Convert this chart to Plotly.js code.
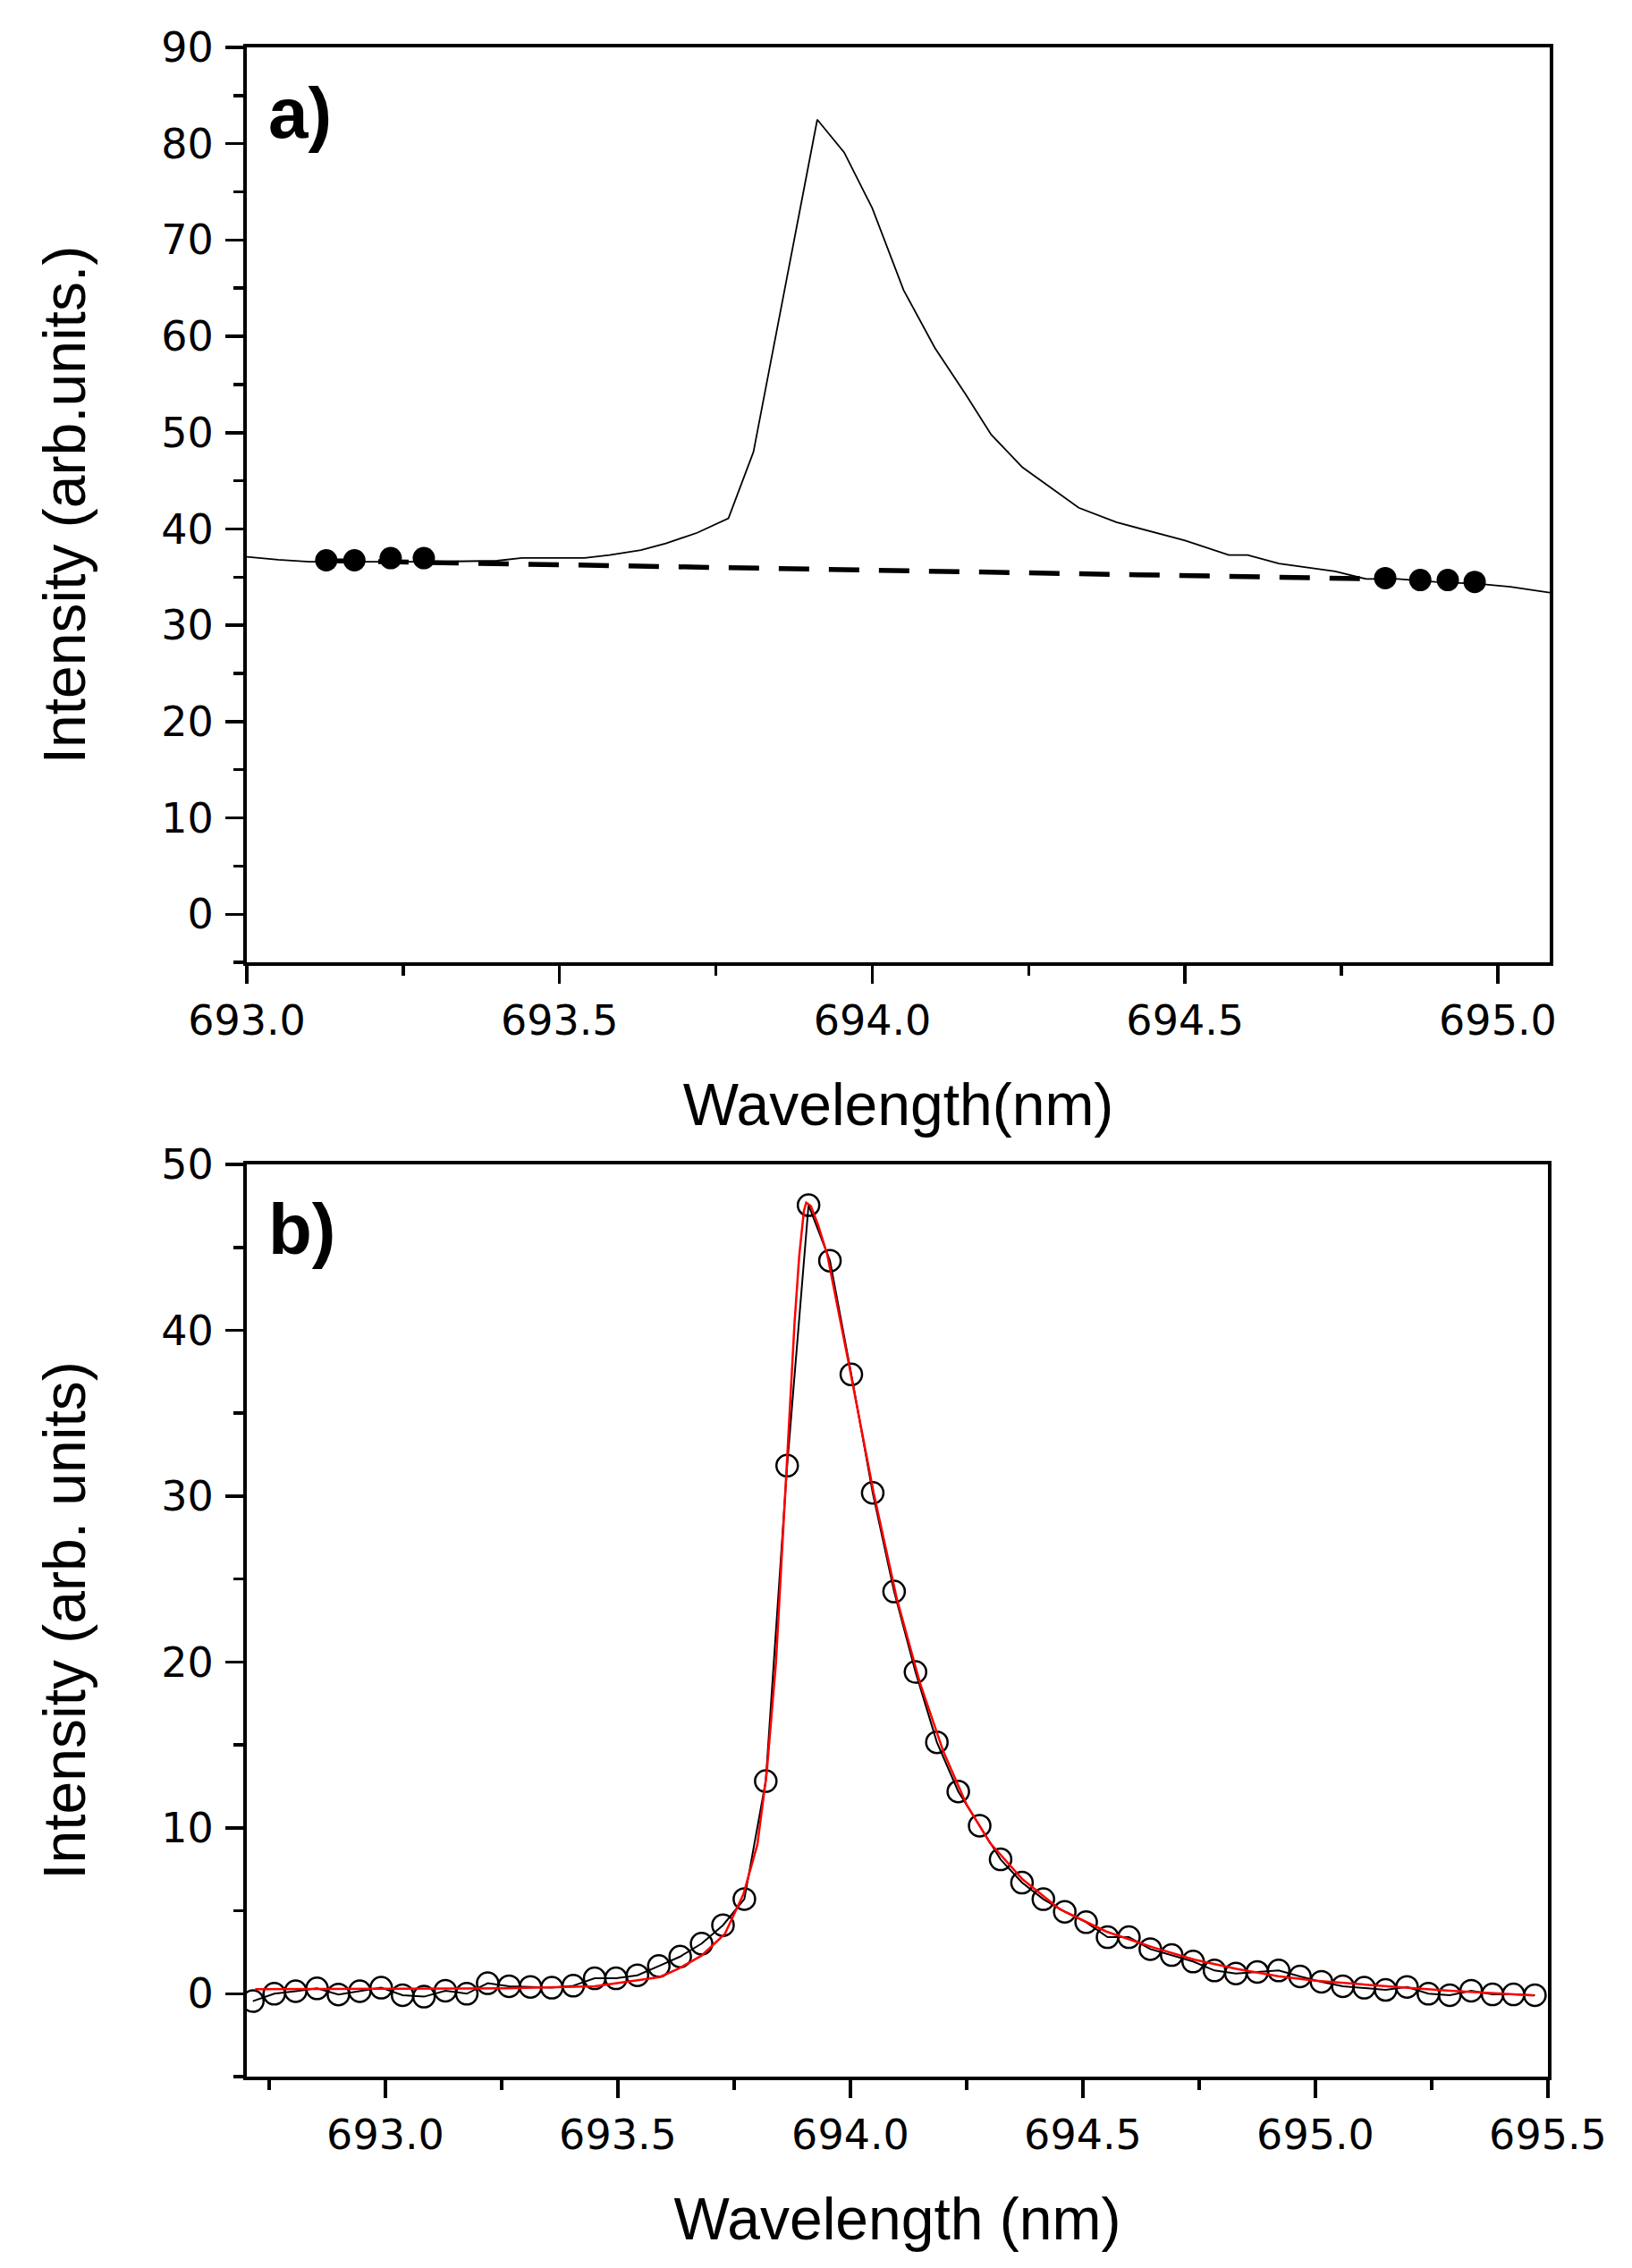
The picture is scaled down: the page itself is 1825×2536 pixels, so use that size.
<!DOCTYPE html>
<html>
<head>
<meta charset="utf-8">
<script src="https://cdn.plot.ly/plotly-3.0.1.min.js"></script>
<style>html,body{margin:0;padding:0;background:#fff;}#chart{width:1825px;height:2536px;}</style>
</head>
<body>
<div id="chart"></div>
<script>
// ---------- Panel a) data ----------
const specX = [693.00,693.05,693.10,693.20,693.30,693.40,693.44,693.54,693.58,693.63,693.67,693.72,693.77,693.81,693.86,693.912,693.955,694.00,694.05,694.10,694.15,694.19,694.24,694.33,694.39,694.50,694.57,694.60,694.65,694.74,694.79,694.84,694.90,694.97,695.02,695.083];
const specY = [37.1,36.8,36.6,36.6,36.6,36.7,37.0,37.0,37.3,37.8,38.5,39.6,41.1,48.0,65.0,82.5,79.1,73.3,64.8,58.8,53.9,49.8,46.4,42.2,40.7,38.8,37.3,37.3,36.4,35.6,34.8,34.8,34.5,34.3,34.0,33.4];
const baseX = [693.13, 694.82];
const baseY = [36.7, 34.8];
const dotX = [693.127,693.172,693.230,693.283,694.820,694.876,694.920,694.963];
const dotY = [36.75,36.75,36.97,36.97,34.9,34.7,34.7,34.5];

// ---------- Panel b) data ----------
const dataX = [692.715,692.761,692.807,692.853,692.899,692.945,692.991,693.037,693.083,693.129,
  693.175,693.220,693.266,693.312,693.358,693.404,693.450,693.496,693.542,693.588,
  693.634,693.680,693.726,693.772,693.818,693.864,693.910,693.956,694.002,694.048,
  694.094,694.140,694.186,694.232,694.278,694.323,694.369,694.415,694.461,694.507,
  694.553,694.599,694.645,694.691,694.737,694.783,694.829,694.875,694.921,694.967,
  695.013,695.059,695.105,695.151,695.197,695.243,695.289,695.335,695.381,695.426,695.472];
const dataY = [-0.45,0.0,0.15,0.32,-0.05,0.15,0.36,-0.09,-0.18,0.18,
  0.0,0.63,0.45,0.41,0.36,0.48,0.93,0.93,1.11,1.67,
  2.24,3.02,4.13,5.71,12.82,31.84,47.55,44.2,37.34,30.2,
  24.25,19.4,15.16,12.19,10.13,8.1,6.7,5.7,4.94,4.31,
  3.41,3.41,2.69,2.33,1.94,1.40,1.22,1.31,1.40,1.04,
  0.72,0.45,0.36,0.23,0.41,0.0,-0.09,0.18,-0.04,-0.04,-0.09];
const fitX = [692.72,692.9,693.1,693.26,693.45,693.59,693.63,693.68,693.73,693.77,693.80,693.82,693.84,693.86,693.88,693.89,693.90,693.905,693.915,693.93,693.95,694.00,694.05,694.10,694.15,694.20,694.25,694.30,694.37,694.45,694.55,694.65,694.74,694.83,694.92,695.00,695.10,695.20,695.29,695.38,695.47];
const fitY = [0.27,0.28,0.30,0.33,0.45,1.0,1.5,2.3,3.6,6.0,9.0,13.3,20.0,30.0,40.5,44.5,47.2,47.7,47.5,46.4,44.6,37.5,30.2,23.8,18.7,14.6,11.4,9.1,6.9,5.1,3.75,2.8,2.05,1.5,1.05,0.78,0.55,0.35,0.18,0.02,-0.1];

const FONT = 'Liberation Sans, Arial, sans-serif';
const TICKFONT = 'DejaVu Sans, Liberation Sans, sans-serif';

const traces = [
  {x: specX, y: specY, type:'scatter', mode:'lines', line:{color:'#000', width:1.8}, xaxis:'x', yaxis:'y', hoverinfo:'skip'},
  {x: baseX, y: baseY, type:'scatter', mode:'lines', line:{color:'#000', width:5.5, dash:'34px,22px'}, xaxis:'x', yaxis:'y'},
  {x: dotX, y: dotY, type:'scatter', mode:'markers', marker:{color:'#000', size:25, symbol:'circle'}, xaxis:'x', yaxis:'y'},
  {x: dataX, y: dataY, type:'scatter', mode:'lines+markers', line:{color:'#000', width:2},
   marker:{symbol:'circle-open', size:24, color:'#000', line:{width:2.5, color:'#000'}}, xaxis:'x2', yaxis:'y2'},
  {x: fitX, y: fitY, type:'scatter', mode:'lines', line:{color:'#ff0000', width:2.5}, xaxis:'x2', yaxis:'y2'}
];

function xaxisCfg(range, tick0, domain, title) {
  return {
    range: range, domain: domain, tick0: tick0, dtick: 0.5, tickformat: '.1f',
    ticks: 'outside', ticklen: 20, tickwidth: 3.5, tickcolor: '#000',
    minor: {dtick: 0.25, tick0: tick0, ticks: 'outside', ticklen: 11, tickwidth: 3.5, tickcolor: '#000', showgrid:false},
    showline: true, linewidth: 4, linecolor: '#000', mirror: true,
    showgrid: false, zeroline: false, ticklabelstandoff: 2,
    tickfont: {family: TICKFONT, size: 46, color: '#000'},
    title: {text: title, font: {family: FONT, size: 66, color: '#000'}, standoff: 46},
    automargin: false
  };
}
function yaxisCfg(range, domain, title) {
  return {
    range: range, domain: domain, tick0: 0, dtick: 10,
    ticks: 'outside', ticklen: 20, tickwidth: 3.5, tickcolor: '#000',
    minor: {dtick: 5, tick0: 0, ticks: 'outside', ticklen: 11, tickwidth: 3.5, tickcolor: '#000', showgrid:false},
    showline: true, linewidth: 4, linecolor: '#000', mirror: true,
    showgrid: false, zeroline: false, ticklabelstandoff: 4,
    tickfont: {family: TICKFONT, size: 46, color: '#000'},
    title: {text: title, font: {family: FONT, size: 66, color: '#000'}, standoff: 64},
    automargin: false
  };
}

const layout = {
  width: 1825, height: 2536,
  margin: {l: 276, r: 92, t: 53, b: 214},
  paper_bgcolor: '#fff', plot_bgcolor: '#fff',
  showlegend: false,
  xaxis: Object.assign(xaxisCfg([693.0, 695.083], 693.0, [0, 1], 'Wavelength(nm)'), {anchor: 'y'}),
  yaxis: Object.assign(yaxisCfg([-5, 90], [0.5491, 1], 'Intensity (arb.units.)'), {anchor: 'x'}),
  xaxis2: Object.assign(xaxisCfg([692.702, 695.5], 693.0, [0, 0.9986], 'Wavelength (nm)'), {anchor: 'y2'}),
  yaxis2: Object.assign(yaxisCfg([-5, 50], [0, 0.4495], 'Intensity (arb. units)'), {anchor: 'x2'}),
  annotations: [
    {text: '<b>a)</b>', xref: 'paper', yref: 'paper', x: 0.0151, y: 0.9678, xanchor: 'left', yanchor: 'middle',
     showarrow: false, font: {family: FONT, size: 80, color: '#000'}},
    {text: '<b>b)</b>', xref: 'paper', yref: 'paper', x: 0.0151, y: 0.4174, xanchor: 'left', yanchor: 'middle',
     showarrow: false, font: {family: FONT, size: 80, color: '#000'}}
  ]
};

Plotly.newPlot('chart', traces, layout, {staticPlot: true, displayModeBar: false});
</script>
</body>
</html>
